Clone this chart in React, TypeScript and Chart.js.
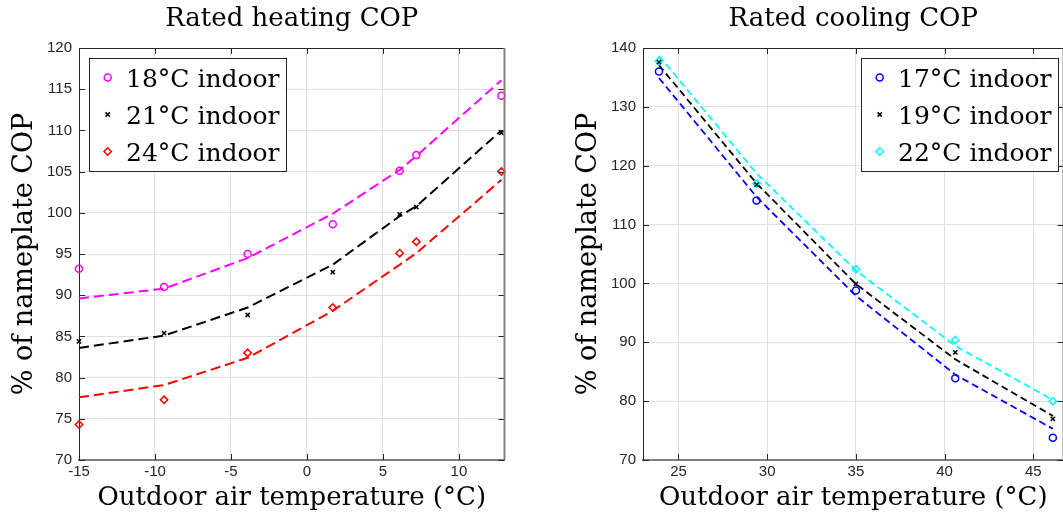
import React, { useEffect, useRef } from "react";
import { Chart, registerables } from "chart.js";

Chart.register(...registerables);

// ---------------- Heating (left panel) ----------------
const heatingTemps = [-15, -9.4, -3.9, 1.7, 6.1, 7.2, 12.8];
const heating18 = [93.2, 91.0, 95.0, 98.6, 105.1, 107.0, 114.2];
const heating21 = [84.4, 85.4, 87.6, 92.8, 99.8, 100.7, 109.7];
const heating24 = [74.3, 77.3, 83.0, 88.5, 95.1, 96.5, 105.0];
const heating18Fit = [89.6, 90.8, 94.5, 99.9, 105.2, 106.9, 116.1];
const heating21Fit = [83.6, 85.1, 88.5, 93.7, 99.6, 100.8, 110.0];
const heating24Fit = [77.6, 79.1, 82.4, 88.1, 93.7, 95.1, 104.0];
const heatingLabels = ["18°C indoor", "21°C indoor", "24°C indoor"];
const heatingXTicks = [-15, -10, -5, 0, 5, 10];
const heatingYTicks = [70, 75, 80, 85, 90, 95, 100, 105, 110, 115, 120];
const heatingXRange = [-15, 13];
const heatingYRange = [70, 120];

// ---------------- Cooling (right panel) ----------------
const coolingTemps = [23.9, 29.4, 35.0, 40.6, 46.1];
const cooling17 = [136.0, 114.1, 98.8, 83.9, 73.8];
const cooling19 = [137.6, 116.8, 99.9, 88.3, 77.0];
const cooling22 = [137.8, 117.0, 102.4, 90.4, 80.0];
const cooling17Fit = [134.9, 114.7, 97.9, 84.5, 75.3];
const cooling19Fit = [137.1, 117.0, 99.9, 87.1, 77.5];
const cooling22Fit = [138.7, 118.7, 102.2, 89.4, 80.2];
const coolingLabels = ["17°C indoor", "19°C indoor", "22°C indoor"];
const coolingXTicks = [25, 30, 35, 40, 45];
const coolingYTicks = [70, 80, 90, 100, 110, 120, 130, 140];
const coolingXRange = [23, 46.7];
const coolingYRange = [70, 140];

const SERIF = '"DejaVu Serif", "Liberation Serif", serif';
const SANS = '"Liberation Sans", Arial, Helvetica, sans-serif';
const AXIS = "#262626";
const GRID = "#e0e0e0";

type Series = { label: string; values: number[]; fit: number[]; color: string; marker: string; radius: number };
type Panel = {
  title: string;
  temps: number[];
  series: Series[];
  xTicks: number[];
  yTicks: number[];
  xRange: number[];
  yRange: number[];
  legendSide: "left" | "right";
  lineWidth: number;
  dash: number[];
};

function drawMarker(ctx: CanvasRenderingContext2D, style: string, x: number, y: number, r: number, color: string, lw: number) {
  ctx.save();
  ctx.strokeStyle = color;
  ctx.lineWidth = lw;
  ctx.beginPath();
  if (style === "circle") {
    ctx.arc(x, y, r, 0, Math.PI * 2);
  } else if (style === "crossRot") {
    const d = r * Math.SQRT1_2;
    ctx.moveTo(x - d, y - d);
    ctx.lineTo(x + d, y + d);
    ctx.moveTo(x + d, y - d);
    ctx.lineTo(x - d, y + d);
  } else {
    ctx.moveTo(x - r, y);
    ctx.lineTo(x, y - r);
    ctx.lineTo(x + r, y);
    ctx.lineTo(x, y + r);
    ctx.closePath();
  }
  ctx.stroke();
  ctx.restore();
}

function makeLegendPlugin(side: "left" | "right") {
  return {
    id: "boxLegend",
    afterDraw(chart: any) {
      const { ctx, chartArea } = chart;
      const items = chart.data.datasets.filter((d: any) => d.inLegend);
      ctx.save();
      ctx.font = `25px ${SERIF}`;
      const maxW = Math.max(...items.map((d: any) => ctx.measureText(d.label).width));
      const textOff = 37;
      const w = Math.round(textOff + maxW + 6);
      const h = 113;
      const x0 = Math.round(side === "left" ? chartArea.left + 10 : chartArea.right - 6 - w);
      const y0 = Math.round(chartArea.top + 10);
      ctx.fillStyle = "#ffffff";
      ctx.fillRect(x0, y0, w, h);
      ctx.strokeStyle = AXIS;
      ctx.lineWidth = 1;
      ctx.strokeRect(x0 + 0.5, y0 + 0.5, w, h);
      items.forEach((d: any, i: number) => {
        const cy = y0 + 19.5 + i * 37;
        drawMarker(ctx, d.pointStyle, x0 + 18.7, cy, d.pointRadius, d.borderColor, 1.5);
        ctx.fillStyle = "#000000";
        ctx.textAlign = "left";
        ctx.textBaseline = "alphabetic";
        ctx.fillText(d.label, x0 + textOff, cy + 9);
      });
      ctx.restore();
    },
  };
}

const framePlugin = {
  id: "frame",
  afterDraw(chart: any) {
    const { ctx, chartArea } = chart;
    const { left, right, top, bottom } = chartArea;
    const xs = chart.scales.x;
    const ys = chart.scales.y;
    ctx.save();
    ctx.strokeStyle = AXIS;
    ctx.lineWidth = 1;
    ctx.beginPath();
    ctx.moveTo(left, top + 0.5);
    ctx.lineTo(right, top + 0.5);
    const tl = 6;
    xs.ticks.forEach((t: any) => {
      const px = Math.round(xs.getPixelForValue(t.value)) + 0.5;
      ctx.moveTo(px, bottom);
      ctx.lineTo(px, bottom - tl);
      ctx.moveTo(px, top);
      ctx.lineTo(px, top + tl);
    });
    ys.ticks.forEach((t: any) => {
      const py = Math.round(ys.getPixelForValue(t.value)) + 0.5;
      ctx.moveTo(left, py);
      ctx.lineTo(left + tl, py);
      ctx.moveTo(right, py);
      ctx.lineTo(right - tl, py);
    });
    ctx.stroke();
    ctx.strokeStyle = "#808080";
    ctx.lineWidth = 2;
    ctx.beginPath();
    ctx.moveTo(right, top);
    ctx.lineTo(right, bottom);
    ctx.stroke();
    ctx.restore();
  },
};

function buildConfig(p: Panel): any {
  const datasets: any[] = [];
  p.series.forEach((s) => {
    datasets.push({
      label: s.label,
      data: p.temps.map((x, i) => ({ x, y: s.values[i] })),
      showLine: false,
      pointStyle: s.marker,
      pointRadius: s.radius,
      pointBorderWidth: 1.5,
      borderColor: s.color,
      pointBorderColor: s.color,
      backgroundColor: "rgba(0,0,0,0)",
      pointBackgroundColor: "rgba(0,0,0,0)",
      clip: false,
      inLegend: true,
    });
  });
  p.series.forEach((s) => {
    datasets.push({
      label: s.label + " fit",
      data: p.temps.map((x, i) => ({ x, y: s.fit[i] })),
      showLine: true,
      pointRadius: 0,
      borderColor: s.color,
      borderWidth: p.lineWidth,
      borderDash: p.dash,
      fill: false,
      tension: 0,
    });
  });

  return {
    type: "scatter",
    data: { datasets },
    options: {
      animation: false,
      responsive: false,
      events: [],
      layout: { padding: { left: 0, right: 3, top: 0, bottom: 0 } },
      plugins: {
        legend: { display: false },
        tooltip: { enabled: false },
        title: {
          display: true,
          text: p.title,
          fullSize: false,
          color: "#000000",
          font: { family: SERIF, size: 26, weight: "normal", lineHeight: 1.2 },
          padding: { top: 3.5, bottom: 13.3 },
        },
      },
      scales: {
        x: {
          type: "linear",
          min: p.xRange[0],
          max: p.xRange[1],
          afterBuildTicks: (scale: any) => {
            scale.ticks = p.xTicks.map((v) => ({ value: v }));
          },
          afterFit: (scale: any) => {
            scale.height = 60;
          },
          grid: { color: GRID, lineWidth: 1, drawTicks: false },
          border: { display: true, color: "#808080", width: 2 },
          ticks: {
            font: { family: SANS, size: 15 },
            color: AXIS,
            padding: 3,
            maxRotation: 0,
            autoSkip: false,
          },
          title: {
            display: true,
            text: "Outdoor air temperature (°C)",
            color: "#000000",
            font: { family: SERIF, size: 26, lineHeight: 1.2 },
            padding: { top: 0, bottom: 6.5 },
          },
        },
        y: {
          type: "linear",
          min: p.yRange[0],
          max: p.yRange[1],
          afterBuildTicks: (scale: any) => {
            scale.ticks = p.yTicks.map((v) => ({ value: v }));
          },
          afterFit: (scale: any) => {
            scale.width = 79;
          },
          grid: { color: GRID, lineWidth: 1, drawTicks: false },
          border: { display: true, color: AXIS, width: 1 },
          ticks: {
            font: { family: SANS, size: 15 },
            color: AXIS,
            padding: 7,
            autoSkip: false,
          },
          title: {
            display: true,
            text: "% of nameplate COP",
            color: "#000000",
            font: { family: SERIF, size: 27, lineHeight: 1.2 },
            padding: { top: 8.5, bottom: 0 },
          },
        },
      },
    },
    plugins: [framePlugin, makeLegendPlugin(p.legendSide)],
  };
}

const heatingPanel: Panel = {
  title: "Rated heating COP",
  temps: heatingTemps,
  series: [
    { label: heatingLabels[0], values: heating18, fit: heating18Fit, color: "#ff00ff", marker: "circle", radius: 3.5 },
    { label: heatingLabels[1], values: heating21, fit: heating21Fit, color: "#000000", marker: "crossRot", radius: 3 },
    { label: heatingLabels[2], values: heating24, fit: heating24Fit, color: "#ff0000", marker: "rectRot", radius: 3.7 },
  ],
  xTicks: heatingXTicks,
  yTicks: heatingYTicks,
  xRange: heatingXRange,
  yRange: heatingYRange,
  legendSide: "left",
  lineWidth: 2,
  dash: [10, 5],
};

const coolingPanel: Panel = {
  title: "Rated cooling COP",
  temps: coolingTemps,
  series: [
    { label: coolingLabels[0], values: cooling17, fit: cooling17Fit, color: "#0000ff", marker: "circle", radius: 3.5 },
    { label: coolingLabels[1], values: cooling19, fit: cooling19Fit, color: "#000000", marker: "crossRot", radius: 3 },
    { label: coolingLabels[2], values: cooling22, fit: cooling22Fit, color: "#00ffff", marker: "rectRot", radius: 3.7 },
  ],
  xTicks: coolingXTicks,
  yTicks: coolingYTicks,
  xRange: coolingXRange,
  yRange: coolingYRange,
  legendSide: "right",
  lineWidth: 1.8,
  dash: [7, 4],
};

function ChartPanel({ panel, left, width }: { panel: Panel; left: number; width: number }) {
  const ref = useRef<HTMLCanvasElement | null>(null);
  useEffect(() => {
    if (!ref.current) return;
    const chart = new Chart(ref.current, buildConfig(panel));
    return () => chart.destroy();
  }, [panel]);
  return (
    <canvas
      ref={ref}
      width={width}
      height={520}
      style={{ position: "absolute", left, top: 0, width, height: 520, display: "block" }}
    />
  );
}

export default function App() {
  return (
    <div
      style={{
        position: "absolute",
        left: 0,
        top: 0,
        width: 1063,
        height: 520,
        overflow: "hidden",
        background: "#ffffff",
      }}
    >
      <ChartPanel panel={heatingPanel} left={0} width={510} />
      <ChartPanel panel={coolingPanel} left={564} width={505} />
    </div>
  );
}
